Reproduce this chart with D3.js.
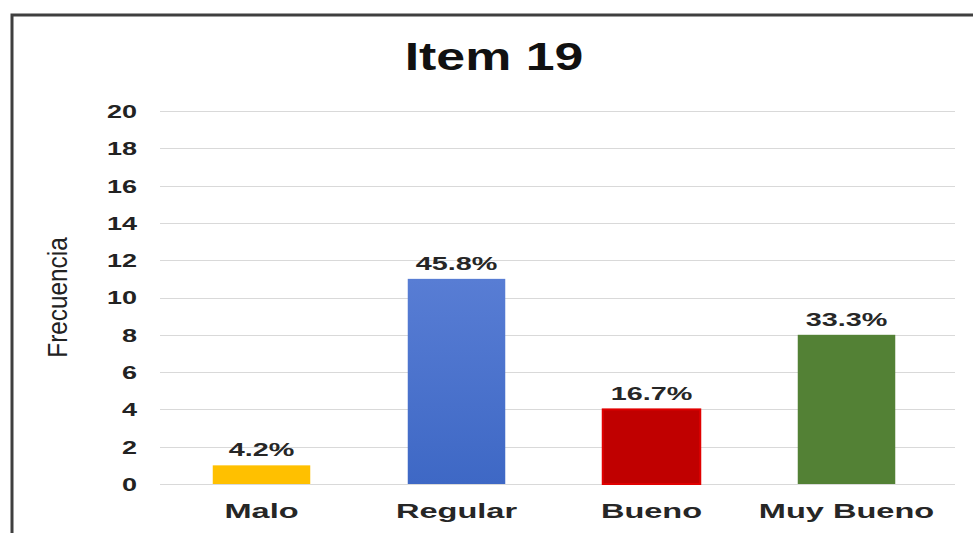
<!DOCTYPE html>
<html>
<head>
<meta charset="utf-8">
<script src="https://cdn.jsdelivr.net/npm/d3@7"></script>
<style>
  html, body { margin: 0; padding: 0; background: #fff; }
  svg { display: block; }
  text { font-family: "Liberation Sans", Arial, sans-serif; }
</style>
</head>
<body>
<script>
// Survey results for item 19
const categories = ["Malo", "Regular", "Bueno", "Muy Bueno"];
const frequencies = [1, 11, 4, 8];
const percentLabels = ["4.2%", "45.8%", "16.7%", "33.3%"];
const barColors = ["#FFC000", "#4472C4", "#C00000", "#538135"];
const yTicks = [0, 2, 4, 6, 8, 10, 12, 14, 16, 18, 20];
const chartTitle = "Item 19";
const yAxisTitle = "Frecuencia";

const W = 973, H = 533;
const svg = d3.select("body").append("svg").attr("width", W).attr("height", H);

svg.append("rect").attr("width", W).attr("height", H).attr("fill", "#fff");

// Outer frame (runs off the right and bottom edges)
svg.append("rect")
  .attr("x", 12).attr("y", 15)
  .attr("width", W + 20).attr("height", H + 20)
  .attr("fill", "none").attr("stroke", "#3f3f3f").attr("stroke-width", 3);

const x = d3.scaleBand().domain(categories).range([164, 944]).paddingInner(0.5).paddingOuter(0.25);
const y = d3.scaleLinear().domain([0, 20]).range([484, 111]);

// Vertical gradient for the blue bar
const defs = svg.append("defs");
const grad = defs.append("linearGradient").attr("id", "blueGrad")
  .attr("x1", 0).attr("y1", 0).attr("x2", 0).attr("y2", 1);
grad.append("stop").attr("offset", "0%").attr("stop-color", "#587DD4");
grad.append("stop").attr("offset", "100%").attr("stop-color", "#3E68C5");

// Gridlines
svg.append("g").selectAll("line").data(yTicks).join("line")
  .attr("x1", 160).attr("x2", 955)
  .attr("y1", d => Math.round(y(d)) + 0.5).attr("y2", d => Math.round(y(d)) + 0.5)
  .attr("stroke", "#d9d9d9").attr("stroke-width", 1);

// Y axis tick labels (stretched horizontally, right edge on the axis)
const yAxis = d3.axisLeft(y).tickValues(yTicks).tickSize(0).tickPadding(0);
const yG = svg.append("g").attr("transform", "translate(137,0)").call(yAxis);
yG.select(".domain").remove();
yG.selectAll("text")
  .attr("x", 0).attr("dy", "0.36em")
  .attr("font-size", 18).attr("font-weight", "bold").attr("fill", "#222")
  .attr("font-family", "'Liberation Sans', Arial, sans-serif")
  .attr("transform", "scale(1.5,1)");

// Bars
const fills = barColors.map((c, i) => i === 1 ? "url(#blueGrad)" : c);
svg.append("g").selectAll("rect").data(categories).join("rect")
  .attr("x", d => x(d))
  .attr("width", x.bandwidth())
  .attr("y", (d, i) => y(frequencies[i]))
  .attr("height", (d, i) => y(0) - y(frequencies[i]))
  .attr("fill", (d, i) => fills[i])
  .attr("stroke", (d, i) => i === 2 ? "#E00000" : "none")
  .attr("stroke-width", (d, i) => i === 2 ? 2 : 0);

// Value labels above bars
svg.append("g").selectAll("text").data(categories).join("text")
  .attr("transform", (d, i) => `translate(${x(d) + x.bandwidth() / 2},${y(frequencies[i]) - 9}) scale(1.6,1)`)
  .attr("text-anchor", "middle")
  .attr("font-size", 18).attr("font-weight", "bold").attr("fill", "#262626")
  .text((d, i) => percentLabels[i]);

// Category labels
svg.append("g").selectAll("text").data(categories).join("text")
  .attr("transform", d => `translate(${x(d) + x.bandwidth() / 2},518) scale(1.55,1)`)
  .attr("text-anchor", "middle")
  .attr("font-size", 21).attr("font-weight", "bold").attr("fill", "#262626")
  .text(d => d);

// Title
svg.append("text")
  .attr("transform", "translate(494,70) scale(1.33,1)")
  .attr("text-anchor", "middle")
  .attr("font-size", 39).attr("font-weight", "bold").attr("fill", "#111")
  .text(chartTitle);

// Y axis title
svg.append("text")
  .attr("transform", `translate(67,${(y(0) + y(20)) / 2}) rotate(-90) scale(0.87,1)`)
  .attr("text-anchor", "middle")
  .attr("font-size", 28).attr("fill", "#222")
  .text(yAxisTitle);
</script>
</body>
</html>
